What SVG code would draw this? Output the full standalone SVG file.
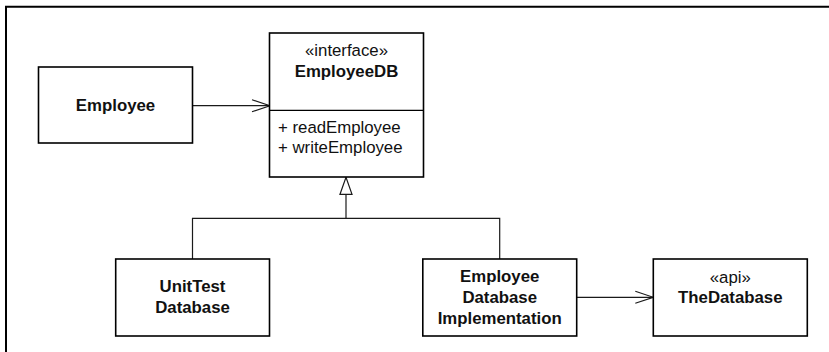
<svg xmlns="http://www.w3.org/2000/svg" width="829" height="352" viewBox="0 0 829 352">
  <style>
    .box { fill: #ffffff; stroke: #000000; stroke-width: 1.6; }
    .frame { fill: none; stroke: #000000; stroke-width: 2; }
    .line { fill: none; stroke: #1a1a1a; stroke-width: 1.2; }
    .t { font-family: "Liberation Sans", Arial, sans-serif; font-size: 16.8px; fill: #111111; }
    .b { font-weight: bold; }
    .c { text-anchor: middle; }
  </style>
  <defs>
    <marker id="open" viewBox="0 0 20 14" refX="19" refY="7" markerWidth="20" markerHeight="14" markerUnits="userSpaceOnUse" orient="auto">
      <path d="M1,1 L19,7 L1,13" fill="none" stroke="#1a1a1a" stroke-width="1.2"/>
    </marker>
    <marker id="gen" viewBox="0 0 20 14" refX="19" refY="7" markerWidth="20" markerHeight="14" markerUnits="userSpaceOnUse" orient="auto">
      <path d="M2,1 L19,7 L2,13 Z" fill="#ffffff" stroke="#1a1a1a" stroke-width="1.2"/>
    </marker>
  </defs>
  <rect width="829" height="352" fill="#ffffff"/>
  <path class="frame" d="M6,352 L6,6.8 L829,6.8"/>

  <g id="connectors">
    <line class="line" x1="193" y1="105.7" x2="270" y2="105.7" marker-end="url(#open)"/>
    <line class="line" x1="346" y1="218.3" x2="346" y2="177.3" marker-end="url(#gen)"/>
    <path class="line" d="M192.5,259 L192.5,218.3 L499.7,218.3 L499.7,259"/>
    <line class="line" x1="576.7" y1="297.3" x2="653.3" y2="297.3" marker-end="url(#open)"/>
  </g>

  <g id="employee">
    <rect class="box" x="38.5" y="67" width="154" height="76"/>
    <text class="t b c" x="115.5" y="111">Employee</text>
  </g>

  <g id="employeedb">
    <rect class="box" x="269.5" y="33" width="154" height="144"/>
    <line x1="269.5" y1="110.3" x2="423.5" y2="110.3" stroke="#000000" stroke-width="1.2"/>
    <text class="t c" x="346.5" y="56">«interface»</text>
    <text class="t b c" x="346.5" y="76.5">EmployeeDB</text>
    <text class="t" x="278" y="133.3">+ readEmployee</text>
    <text class="t" x="278" y="153.3">+ writeEmployee</text>
  </g>

  <g id="unittestdb">
    <rect class="box" x="115.7" y="259" width="153.8" height="77"/>
    <text class="t b c" x="192.5" y="292.3">UnitTest</text>
    <text class="t b c" x="192.5" y="313.3">Database</text>
  </g>

  <g id="employeedbimpl">
    <rect class="box" x="422.8" y="259" width="153.9" height="77"/>
    <text class="t b c" x="499.7" y="281.7">Employee</text>
    <text class="t b c" x="499.7" y="302.7">Database</text>
    <text class="t b c" x="499.7" y="323.5">Implementation</text>
  </g>

  <g id="thedatabase">
    <rect class="box" x="653.3" y="259" width="154" height="77"/>
    <text class="t c" x="730.3" y="283.3">«api»</text>
    <text class="t b c" x="730.3" y="302.7">TheDatabase</text>
  </g>
</svg>
